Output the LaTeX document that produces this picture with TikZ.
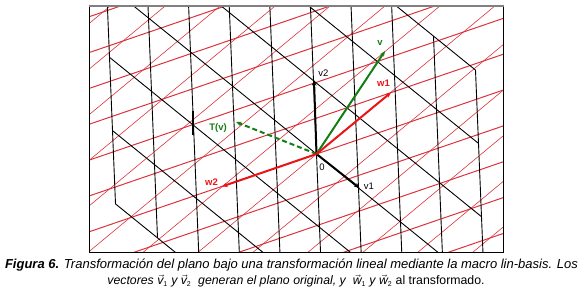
\documentclass[tikz,border=0pt]{standalone}
\usepackage{fontspec}
\setmainfont{Liberation Sans}
\usetikzlibrary{calc,arrows.meta}
\definecolor{gridred}{RGB}{220,50,60}
\definecolor{vecred}{RGB}{235,20,20}
\definecolor{vecgreen}{RGB}{20,125,20}
\definecolor{framegray}{RGB}{128,128,128}
\newcommand{\vsym}[2]{$\vec{\mbox{#1}}_{\mbox{\scriptsize\upshape #2}}$}
\begin{document}
\begin{tikzpicture}[x=1pt,y=-1pt,
  blackgrid/.style={black,line width=0.9pt},
  redsteep/.style={gridred,line width=0.6pt},
  redflat/.style={gridred,line width=1pt},
  vecarrow/.style={line width=2pt,-{Stealth[length=5.5pt,width=4.5pt]}},
  lbl/.style={font=\fontsize{9.5}{10}\selectfont,inner sep=0pt},
  boldlbl/.style={font=\fontsize{9.5}{10}\selectfont\bfseries,inner sep=0pt},
  caption/.style={font=\fontsize{13}{15}\selectfont\itshape,inner sep=0pt},
  captiontwo/.style={font=\fontsize{12.3}{15}\selectfont\itshape,inner sep=0pt}]
\useasboundingbox (0,0) rectangle (583,294);
\coordinate (O) at (316.5,154);
\coordinate (va) at (42,34);
\coordinate (vb) at (-3,-73.3);
\coordinate (wa) at (73.5,-61);
\coordinate (wb) at (-93.5,32);
\begin{scope}
\clip (89,6) rectangle (503,252);
% red transformed grid
\foreach \k in {-10,...,10}{
  \draw[redflat] ($(O)+\k*(wa)-10*(wb)$) -- ($(O)+\k*(wa)+10*(wb)$);
  \draw[redsteep] ($(O)+\k*(wb)-10*(wa)$) -- ($(O)+\k*(wb)+10*(wa)$);
}
% black original grid
\foreach \k in {-5,...,4}{
  \draw[blackgrid] ($(O)+\k*(va)+3*(vb)$) -- ($(O)+\k*(va)-3*(vb)$);
}
\foreach \j in {-3,...,3}{
  \draw[blackgrid] ($(O)-5*(va)+\j*(vb)$) -- ($(O)+4*(va)+\j*(vb)$);
}
\end{scope}
% frame
\draw[black,line width=0.9pt] (89,6) -- (89,252) -- (503,252) -- (503,6);
\draw[framegray,line width=1.6pt] (88.5,6) -- (503.5,6);
% thick mark
\coordinate (ma) at (192.6,111);
\coordinate (mb) at (192.6,135);
\draw[black,line width=2pt] (ma) -- (mb);
% vectors
\coordinate (v1) at (359.5,188);
\coordinate (v2) at (314,80);
\coordinate (w1) at (391,92.5);
\coordinate (w2) at (222,186.5);
\coordinate (v) at (385,51);
\coordinate (Tv) at (236,122);
\draw[vecarrow,vecgreen,dash pattern=on 5pt off 3pt] (O) -- (Tv);
\draw[vecarrow,black] (O) -- (v1);
\draw[vecarrow,black] (O) -- (v2);
\draw[vecarrow,vecgreen] (O) -- (v);
\draw[vecarrow,vecred] (O) -- (w1);
\draw[vecarrow,vecred] (O) -- (w2);
% labels
\node[boldlbl,vecgreen] (lv) at (380,43) {v};
\node[boldlbl,vecred] (lw1) at (383.5,83) {w1};
\node[lbl,black] (lv2) at (323.5,73) {v2};
\node[lbl,black] (lv1) at (369,186.5) {v1};
\node[boldlbl,vecred] (lw2) at (211.5,182) {w2};
\node[boldlbl,vecgreen] (lTv) at (218,128) {T(v)};
\node[lbl,black] (l0) at (322,167) {0};
% caption
\node[caption] (cap1) at (291.5,265) {{\bfseries Figura 6.} Transformación del plano bajo una transformación lineal mediante la macro lin-basis. Los};
\node[captiontwo] (cap2) at (296,281) {vectores \vsym{v}{1} y \vsym{v}{2}\ \ generan el plano original, y \ \vsym{w}{1} y \vsym{w}{2} {\upshape al transformado.}};
\end{tikzpicture}
\end{document}
